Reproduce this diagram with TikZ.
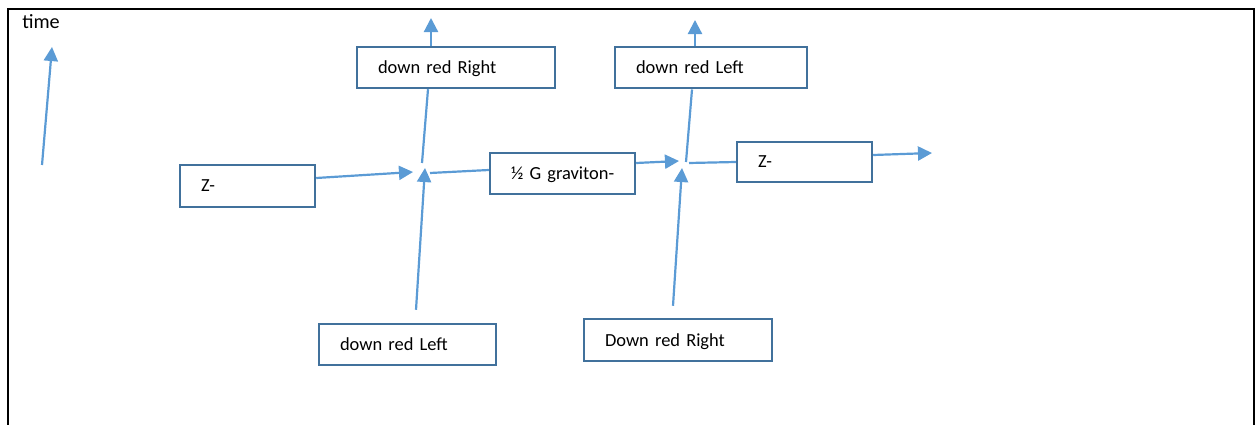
\documentclass[tikz,border=0pt]{standalone}
\usepackage{fontspec}
\setmainfont{Carlito}
\usetikzlibrary{arrows.meta,calc}
\definecolor{arrowblue}{HTML}{5B9BD5}
\definecolor{boxblue}{HTML}{41719C}
\tikzset{
  box/.style={draw=boxblue,line width=1.4pt,fill=white,align=left,inner xsep=0.42cm,inner ysep=0pt,text depth=0pt,font=\fontsize{10.5}{12}\selectfont},
  link/.style={arrowblue,line width=1.25pt},
  arr/.style={link,-{Triangle[length=8pt,width=8pt]}}
}
\begin{document}
\begin{tikzpicture}[x=0.02cm,y=-0.02cm]
    \useasboundingbox (0,0) rectangle (1257,425);
    \draw[line width=1.4pt] (8,425) -- (8,9) -- (1254,9) -- (1254,425);
    % time axis
    \node[anchor=base west,inner sep=0pt,font=\fontsize{11.5}{13}\selectfont] (time) at (22,29) {time};
    \coordinate (t0) at (42,165); \coordinate (t1) at (52,47);
    \draw[arr] (t0) -- (t1);
    % boxes
    \node[box,text width=1.86cm,minimum height=0.84cm] (zleft) at (247.5,186) {Z-};
    \node[box,text width=3.12cm,minimum height=0.82cm] (dredR) at (456,67.5) {down red Right};
    \node[box,text width=2.06cm,minimum height=0.82cm] (grav) at (562.5,173.5) {½~G~graviton-};
    \node[box,text width=3.0cm,minimum height=0.83cm] (dredL) at (711,67.5) {down red Left};
    \node[box,text width=1.86cm,minimum height=0.8cm] (zright) at (804.5,162) {Z-};
    \node[box,text width=2.7cm,minimum height=0.82cm] (dredLb) at (407.5,344.5) {down red Left};
    \node[box,text width=2.92cm,minimum height=0.84cm] (DredRb) at (678,340) {Down red Right};
    % vertices
    \coordinate (v1w) at (413,172); \coordinate (v1s) at (425,168);
    \coordinate (v1n) at (422,163); \coordinate (v1e) at (430,173);
    \coordinate (v2w) at (679,161); \coordinate (v2s) at (682,168);
    \coordinate (v2n) at (686,162); \coordinate (v2e) at (689,163);
    \coordinate (top1) at (431,18); \coordinate (top2) at (695,20);
    \coordinate (out) at (932,153);
    % connectors
    \draw[arr] ($(zleft.east)+(0,-8)$) -- (v1w);
    \draw[arr] ($(dredLb.north)+(8.5,-13)$) -- (v1s);
    \draw[link] (v1n) -- ($(dredR.south)+(-28,0)$);
    \draw[arr] ($(dredR.north)+(-25,0)$) -- (top1);
    \draw[link] ($(grav.west)+(0,-3.5)$) -- (v1e);
    \draw[arr] ($(grav.east)+(0,-10.5)$) -- (v2w);
    \draw[arr] ($(DredRb.north)+(-5,-12)$) -- (v2s);
    \draw[link] (v2n) -- ($(dredL.south)+(-19,0)$);
    \draw[arr] ($(dredL.north)+(-16,0)$) -- (top2);
    \draw[link] (v2e) -- (zright.west);
    \draw[arr] ($(zright.east)+(0,-7)$) -- (out);
\end{tikzpicture}
\end{document}
